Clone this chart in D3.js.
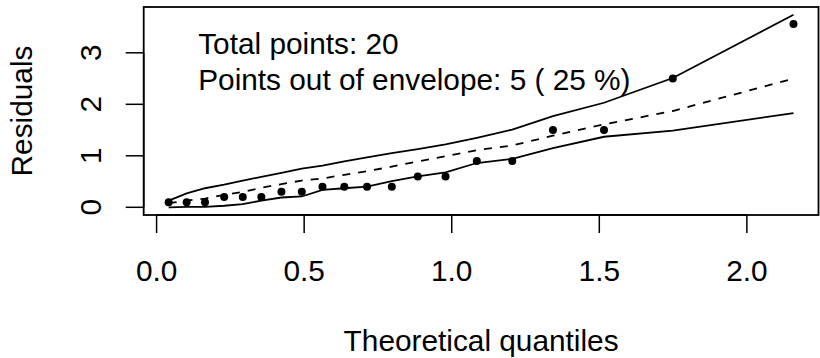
<!DOCTYPE html>
<html>
<head>
<meta charset="utf-8">
<script src="https://d3js.org/d3.v7.min.js"></script>
<style>
  body { margin: 0; background: #fff; }
  text { font-family: "Liberation Sans", Arial, Helvetica, sans-serif; fill: #000; }
</style>
</head>
<body>
<div id="chart-area"></div>
<script>
// half-normal plot with simulated envelope

var theoQuantiles = [0.041, 0.102, 0.164, 0.229, 0.292, 0.355, 0.423, 0.492, 0.562, 0.636,
                     0.713, 0.797, 0.885, 0.979, 1.085, 1.205, 1.343, 1.516, 1.749, 2.158];
var residuals = [0.1, 0.1, 0.1, 0.2, 0.2, 0.2, 0.3, 0.3, 0.4, 0.4,
                 0.4, 0.4, 0.6, 0.6, 0.9, 0.9, 1.5, 1.5, 2.5, 3.56];
var envLower = [0.00, 0.01, 0.01, 0.03, 0.06, 0.13, 0.19, 0.21, 0.34, 0.37,
                0.40, 0.51, 0.60, 0.68, 0.86, 0.94, 1.15, 1.37, 1.49, 1.83];
var envMedian = [0.08, 0.13, 0.17, 0.24, 0.30, 0.38, 0.45, 0.52, 0.56, 0.63,
                 0.70, 0.79, 0.89, 0.99, 1.11, 1.20, 1.39, 1.61, 1.87, 2.50];
var envUpper = [0.13, 0.27, 0.37, 0.44, 0.52, 0.59, 0.67, 0.75, 0.81, 0.89,
                0.97, 1.05, 1.13, 1.22, 1.35, 1.51, 1.77, 2.03, 2.51, 3.74];
var xTicks = [0, 0.5, 1, 1.5, 2];
var yTicks = [0, 1, 2, 3];
var infoLines = ["Total points: 20", "Points out of envelope: 5 ( 25 %)"];

var W = 820, H = 358;
var margin = { left: 143.7, right: 1.5, top: 7, bottom: 143 };
var width = W - margin.left - margin.right,
    height = H - margin.top - margin.bottom;
var fs = 29.8;

var svg = d3.select("#chart-area")
  .append("svg")
    .attr("width", W)
    .attr("height", H);

var g = svg.append("g")
    .attr("transform", "translate(" + margin.left + "," + margin.top + ")");

// R style 4% padding on each side
function padded(lo, hi) {
  var d = (hi - lo) * 0.04;
  return [lo - d, hi + d];
}

var x = d3.scaleLinear()
  .domain(padded(d3.min(theoQuantiles), d3.max(theoQuantiles)))
  .range([0, width]);

var allY = residuals.concat(envLower, envUpper);
var y = d3.scaleLinear()
  .domain(padded(d3.min(allY), d3.max(allY)))
  .range([height, 0]);

// axes
var tickLen = 18;
var xAxis = g.append("g").attr("transform", "translate(0," + height + ")");
xAxis.append("line")
  .attr("x1", x(xTicks[0])).attr("x2", x(xTicks[xTicks.length - 1]))
  .attr("stroke", "#000").attr("stroke-width", 1.5);
xAxis.selectAll(".tk").data(xTicks).enter().append("line")
  .attr("x1", function(d){ return x(d); }).attr("x2", function(d){ return x(d); })
  .attr("y1", 0).attr("y2", tickLen)
  .attr("stroke", "#000").attr("stroke-width", 1.5);
xAxis.selectAll(".lb").data(xTicks).enter().append("text")
  .attr("x", function(d){ return x(d); })
  .attr("y", 66)
  .attr("text-anchor", "middle")
  .attr("font-size", fs + "px")
  .text(function(d){ return d3.format(".1f")(d); });

var yAxis = g.append("g");
yAxis.append("line")
  .attr("y1", y(yTicks[0])).attr("y2", y(yTicks[yTicks.length - 1]))
  .attr("stroke", "#000").attr("stroke-width", 1.5);
yAxis.selectAll(".tk").data(yTicks).enter().append("line")
  .attr("y1", function(d){ return y(d); }).attr("y2", function(d){ return y(d); })
  .attr("x1", 0).attr("x2", -tickLen)
  .attr("stroke", "#000").attr("stroke-width", 1.5);
yAxis.selectAll(".lb").data(yTicks).enter().append("text")
  .attr("transform", function(d){ return "translate(-42.5," + y(d) + ") rotate(-90)"; })
  .attr("text-anchor", "middle")
  .attr("font-size", fs + "px")
  .text(function(d){ return d; });

// axis titles
g.append("text")
  .attr("x", width / 2)
  .attr("y", height + 136)
  .attr("text-anchor", "middle")
  .attr("font-size", fs + "px")
  .text("Theoretical quantiles");

g.append("text")
  .attr("transform", "translate(-112," + (height / 2) + ") rotate(-90)")
  .attr("text-anchor", "middle")
  .attr("font-size", fs + "px")
  .text("Residuals");

// envelope lines
var line = d3.line()
  .x(function(d){ return x(d[0]); })
  .y(function(d){ return y(d[1]); });

function pairs(vals) {
  return theoQuantiles.map(function(q, i){ return [q, vals[i]]; });
}

g.append("path").datum(pairs(envLower))
  .attr("d", line).attr("fill", "none").attr("stroke", "#000").attr("stroke-width", 1.8);
g.append("path").datum(pairs(envUpper))
  .attr("d", line).attr("fill", "none").attr("stroke", "#000").attr("stroke-width", 1.8);
g.append("path").datum(pairs(envMedian))
  .attr("d", line).attr("fill", "none").attr("stroke", "#000").attr("stroke-width", 1.8)
  .attr("stroke-dasharray", "8,8");

// points
g.selectAll("circle").data(pairs(residuals)).enter().append("circle")
  .attr("cx", function(d){ return x(d[0]); })
  .attr("cy", function(d){ return y(d[1]); })
  .attr("r", 4)
  .attr("fill", "#000");

// info text
g.selectAll(".info").data(infoLines).enter().append("text")
  .attr("x", 54.5)
  .attr("y", function(d, i){ return 47 + i * 36; })
  .attr("font-size", fs + "px")
  .text(function(d){ return d; });

// box
g.append("rect")
  .attr("width", width).attr("height", height)
  .attr("fill", "none").attr("stroke", "#000").attr("stroke-width", 1.8);
</script>
</body>
</html>
